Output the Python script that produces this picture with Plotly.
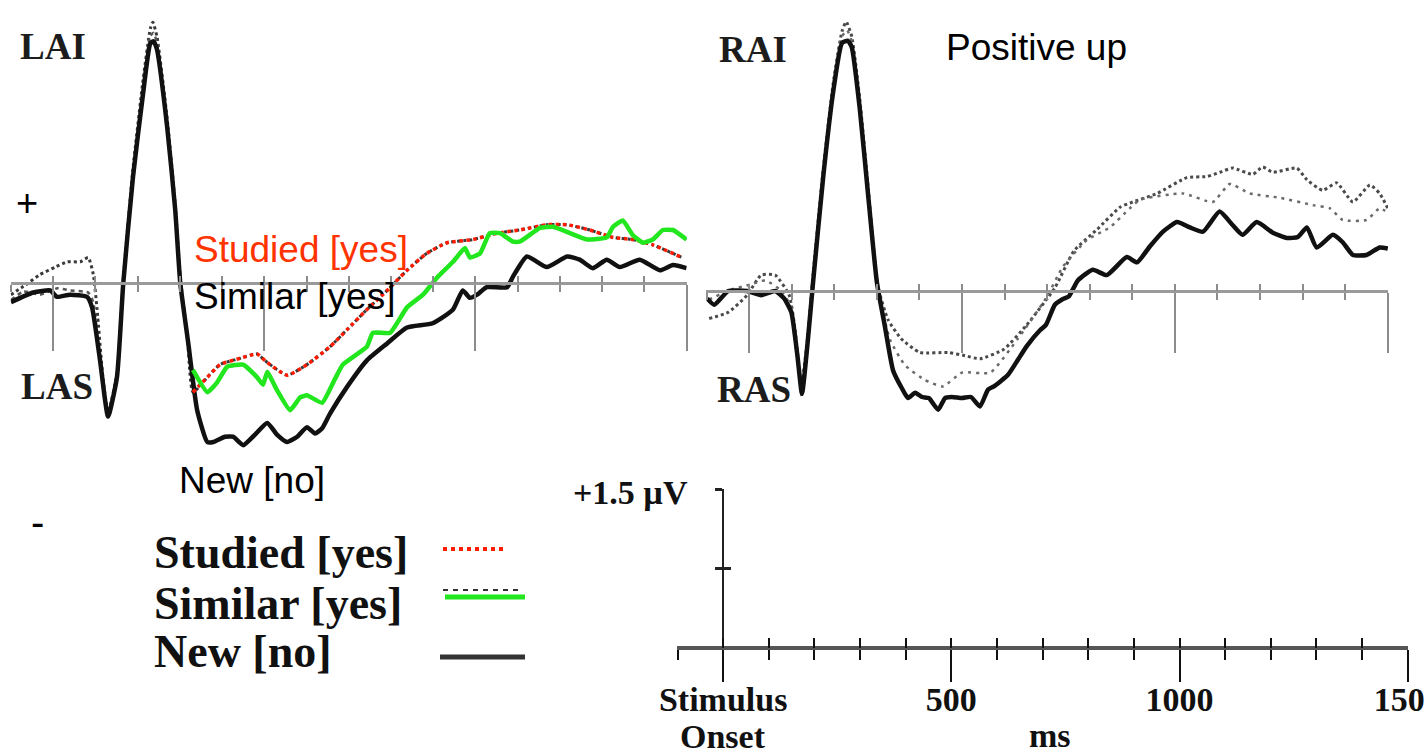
import plotly.graph_objects as go

W, H = 1425, 753


def px(x):
    """horizontal pixel -> paper fraction"""
    return x / W


def py(y):
    """vertical pixel (from top) -> paper fraction"""
    return 1 - y / H


# ---------------- waveforms: (time ms, amplitude µV) ----------------
EPOCH = [-100, 1500]
OVERLAY_FROM_MS = 330

# left anterior sites (LAI / LAS)
left_new = [(-100, -0.18), (-47, -0.09), (-7, -0.07), (9, -0.13), (40, -0.11), (80, -0.13), (92, -0.23),
            (111, -0.73), (130, -1.26), (151, -0.89), (166, 0.0), (189, 1.00), (213, 1.79), (230, 2.26),
            (238, 2.28), (246, 2.20), (270, 1.47), (289, 0.69), (301, 0.0), (320, -0.57), (341, -1.20),
            (365, -1.50), (379, -1.50),
            (407, -1.45), (426, -1.45), (450, -1.53), (478, -1.43), (507, -1.32), (530, -1.43), (554, -1.50),
            (578, -1.45), (601, -1.36), (620, -1.42), (637, -1.37), (656, -1.23), (696, -0.98), (743, -0.73),
            (791, -0.57), (838, -0.42), (899, -0.38), (947, -0.25), (970, -0.07), (987, -0.14), (1004, -0.11),
            (1027, -0.04), (1075, -0.04), (1089, 0.06), (1122, 0.25), (1169, 0.15), (1217, 0.25), (1247, 0.22),
            (1278, 0.14), (1311, 0.22), (1342, 0.15), (1389, 0.22), (1437, 0.12), (1468, 0.17), (1500, 0.14)]

left_studied = [(-100, -0.11), (-66, -0.02), (-31, 0.08), (5, 0.15), (33, 0.20), (64, 0.20), (83, 0.24),
                (95, 0.08), (104, -0.25), (118, -0.90), (130, -1.22), (151, -0.85), (166, 0.03), (189, 1.08),
                (213, 1.92), (230, 2.40), (236, 2.46), (246, 2.32), (270, 1.55), (289, 0.74), (301, 0.05),
                (318, -0.52),
                (331, -1.03), (365, -0.89), (395, -0.77), (443, -0.71), (483, -0.67), (507, -0.75),
                (554, -0.87), (601, -0.77), (656, -0.60), (696, -0.44), (743, -0.25), (791, -0.07),
                (838, 0.12), (885, 0.28), (933, 0.38), (994, 0.41), (1051, 0.47), (1105, 0.50), (1169, 0.55),
                (1217, 0.55), (1271, 0.50), (1326, 0.43), (1373, 0.41), (1420, 0.36), (1490, 0.24)]

left_similar = [(-100, -0.16), (-70, -0.08), (-31, -0.11), (10, -0.05), (40, -0.07), (83, -0.09), (95, -0.18),
                (111, -0.75), (130, -1.22), (151, -0.85), (166, 0.02), (189, 1.04), (213, 1.85), (230, 2.33),
                (238, 2.36), (246, 2.26), (270, 1.50), (289, 0.72), (301, 0.02), (318, -0.50),
                (331, -0.82), (365, -1.03), (388, -0.94), (412, -0.79), (450, -0.77), (483, -0.89),
                (497, -0.96), (507, -0.84), (530, -1.01), (561, -1.20), (585, -1.08), (601, -1.06),
                (637, -1.13), (668, -0.90), (686, -0.77), (743, -0.60), (757, -0.47), (798, -0.47),
                (838, -0.23), (876, -0.11), (909, 0.05), (947, 0.20), (975, 0.33), (987, 0.24), (1011, 0.28),
                (1034, 0.47), (1058, 0.47), (1089, 0.39), (1105, 0.39), (1153, 0.52), (1184, 0.53),
                (1224, 0.47), (1264, 0.41), (1311, 0.43), (1326, 0.53), (1349, 0.59), (1373, 0.45),
                (1397, 0.38), (1420, 0.41), (1444, 0.50), (1468, 0.50), (1500, 0.41)]

# right anterior sites (RAI / RAS)
right_new = [(-99, -0.07), (-82, -0.13), (-49, 0.0), (-5, 0.0), (28, -0.04), (61, 0.0), (82, -0.07),
             (99, -0.20), (113, -0.60), (124, -0.97), (137, -0.50), (150, 0.08), (174, 1.08), (197, 1.87),
             (218, 2.34), (232, 2.36), (241, 2.30), (260, 1.71), (279, 0.92), (300, 0.08), (319, -0.34),
             (338, -0.75), (359, -0.92), (373, -1.01), (390, -0.96), (406, -1.00), (422, -1.01),
             (444, -1.12), (460, -1.01), (476, -1.00), (500, -1.01), (521, -1.00), (542, -1.09),
             (561, -0.93), (575, -0.90), (608, -0.79), (631, -0.65), (652, -0.52), (683, -0.37),
             (697, -0.32), (718, -0.13), (735, -0.08), (751, -0.05), (772, 0.10), (807, 0.20), (840, 0.15),
             (887, 0.32), (911, 0.27), (941, 0.42), (972, 0.56), (1005, 0.65), (1035, 0.60), (1066, 0.56),
             (1105, 0.75), (1136, 0.62), (1159, 0.53), (1192, 0.65), (1230, 0.55), (1263, 0.50),
             (1289, 0.51), (1310, 0.60), (1333, 0.41), (1371, 0.53), (1394, 0.46), (1418, 0.34),
             (1450, 0.34), (1481, 0.41), (1500, 0.40)]

right_studied = [(-94, -0.26), (-49, -0.20), (-5, -0.04), (28, 0.15), (61, 0.15), (94, -0.04), (108, -0.37),
                 (122, -0.90), (137, -0.45), (150, 0.15), (174, 1.15), (197, 1.95), (218, 2.45), (228, 2.54),
                 (241, 2.40), (260, 1.80), (279, 1.00), (302, 0.05), (326, -0.27), (357, -0.45), (401, -0.58),
                 (467, -0.58), (507, -0.61), (542, -0.64), (598, -0.55), (652, -0.32), (718, 0.03),
                 (763, 0.38), (817, 0.58), (871, 0.79), (901, 0.84), (958, 0.92), (1028, 1.07), (1075, 1.08),
                 (1105, 1.12), (1136, 1.16), (1183, 1.10), (1206, 1.17), (1230, 1.12), (1286, 1.16),
                 (1310, 1.05), (1347, 0.95), (1380, 1.02), (1418, 0.84), (1458, 1.00), (1481, 0.92),
                 (1500, 0.78)]

right_similar = [(-94, -0.08), (-45, 0.01), (2, 0.06), (38, 0.10), (73, 0.01), (96, -0.13), (110, -0.55),
                 (124, -1.00), (137, -0.48), (150, 0.12), (174, 1.12), (197, 1.92), (218, 2.40), (230, 2.46),
                 (241, 2.35), (260, 1.76), (279, 0.96), (302, 0.03), (331, -0.46), (366, -0.70), (413, -0.84),
                 (455, -0.90), (500, -0.77), (566, -0.77), (631, -0.45), (697, -0.07), (737, 0.23),
                 (793, 0.48), (847, 0.60), (894, 0.78), (918, 0.86), (1019, 0.92), (1089, 0.84), (1129, 1.01),
                 (1176, 0.92), (1246, 0.88), (1324, 0.81), (1364, 0.78), (1394, 0.67), (1450, 0.67),
                 (1481, 0.78), (1500, 0.74)]

# calibration bar
scale_ticks_ms = [0, 500, 1000, 1500]
scale_tick_labels = ["Stimulus", "500", "1000", "1500"]
scale_uv_ticks = [0.75, 1.5]

# ---------------- styling ----------------
RED = "#ff1a00"
RED_TEXT = "#ff3300"
GREEN = "#22e61e"
AXIS_GREY = "#9a9a9a"
TICK_GREY = "#8c8c8c"
SERIF = "Liberation Serif"
SANS = "Liberation Sans"
PX_PER_UV = 106.0

fig = go.Figure()


def add_wave(pts, xa, ya, color, width, dash="solid", smooth=0.5):
    t, v = zip(*pts)
    fig.add_trace(go.Scatter(
        x=list(t), y=list(v), xaxis=xa, yaxis=ya, mode="lines",
        line=dict(color=color, width=width, dash=dash, shape="spline", smoothing=smooth),
        showlegend=False, hoverinfo="skip"))


def late(pts):
    return [(t, v) for t, v in pts if t >= OVERLAY_FROM_MS]


# left panel: original dotted / dashed traces, then solid and coloured overlays on top
add_wave(left_studied, "x", "y", "#3a3a3a", 3, "dot")
add_wave(left_similar, "x", "y", "#555555", 2.5, "4px,4px")
add_wave(left_new, "x4", "y", "#111111", 4.5)
add_wave(late(left_studied), "x4", "y", RED, 3.5, "dot")
add_wave(late(left_similar), "x4", "y", GREEN, 4.5, "solid", 0.4)

# right panel
add_wave(right_studied, "x2", "y2", "#4a4a4a", 3, "dot")
add_wave(right_similar, "x2", "y2", "#6a6a6a", 2.5, "3px,5px")
add_wave(right_new, "x5", "y2", "#111111", 4.5)

# empty traces register the calibration-bar axes
for xa, ya in [("x3", "y3"), ("x6", "y3"), ("x3", "y6")]:
    fig.add_trace(go.Scatter(x=[], y=[], xaxis=xa, yaxis=ya, showlegend=False, hoverinfo="skip"))

XR = [EPOCH[0] - 0.5, EPOCH[1] + 0.5]


def wave_x(x0, x1, base, long_len):
    return dict(domain=[px(x0), px(x1)], range=XR, anchor="free", position=py(base), automargin=False,
                showline=True, linecolor=AXIS_GREY, linewidth=3, showgrid=False, zeroline=False,
                tickmode="linear", tick0=0, dtick=500, ticks="outside", ticklen=long_len, tickwidth=2,
                tickcolor=TICK_GREY, showticklabels=False,
                minor=dict(tickmode="linear", tick0=0, dtick=100, ticks="outside", ticklen=7,
                           tickwidth=2, tickcolor=TICK_GREY, showgrid=False))


def wave_x_up(base_id, base, color=TICK_GREY, length=7):
    return dict(overlaying=base_id, range=XR, anchor="free", position=py(base), showline=False,
                automargin=False, showgrid=False, zeroline=False, tickmode="linear", tick0=0, dtick=100,
                ticks="inside", ticklen=length, tickwidth=2, tickcolor=color, showticklabels=False)


def wave_y(base, top=0, bottom=470):
    return dict(domain=[py(bottom), py(top)], range=[(base - bottom) / PX_PER_UV, (base - top) / PX_PER_UV],
                visible=False, anchor="free", position=0, automargin=False)


L_BASE, R_BASE, S_BASE = 283, 291, 648

fig.update_layout(
    template="none",
    width=W, height=H, autosize=False,
    margin=dict(l=0, r=0, t=0, b=0, pad=0, autoexpand=False),
    paper_bgcolor="white", plot_bgcolor="white",
    showlegend=False,
    xaxis=wave_x(10.75, 686.75, L_BASE, 66),
    yaxis=wave_y(L_BASE),
    xaxis4=wave_x_up("x", L_BASE),
    xaxis2=wave_x(706.4, 1388, R_BASE, 60),
    yaxis2=wave_y(R_BASE),
    xaxis5=wave_x_up("x2", R_BASE),
    # calibration bar
    xaxis3=dict(domain=[px(677.3), px(1408)], range=XR, anchor="free", position=py(S_BASE),
                automargin=False, ticklabeloverflow="allow", ticklabelstandoff=-12,
                showline=True, linecolor="#555555", linewidth=4, showgrid=False, zeroline=False,
                tickmode="array", tickvals=scale_ticks_ms,
                ticktext=[f"<b>{s}</b>" for s in scale_tick_labels],
                ticks="outside", ticklen=32, tickwidth=2, tickcolor="#111111",
                tickfont=dict(family=SERIF, size=34, color="#111111"),
                minor=dict(tickmode="linear", tick0=0, dtick=100, ticks="outside", ticklen=10,
                           tickwidth=2, tickcolor="#111111", showgrid=False)),
    xaxis6=wave_x_up("x3", S_BASE, "#111111", 10),
    yaxis3=dict(domain=[py(S_BASE), py(489)], range=[0, 1.5], anchor="free", position=px(723),
                automargin=False,
                showline=True, linecolor="#222222", linewidth=2, showgrid=False, zeroline=False,
                tickmode="array", tickvals=scale_uv_ticks, ticks="outside", ticklen=7, tickwidth=3,
                tickcolor="#222222", showticklabels=False),
    yaxis6=dict(overlaying="y3", range=[0, 1.5], anchor="free", position=px(723), showline=False,
                automargin=False,
                showgrid=False, zeroline=False, tickmode="array", tickvals=scale_uv_ticks,
                ticks="inside", ticklen=7, tickwidth=3, tickcolor="#222222", showticklabels=False),
)


def label(text, x, y, size, family=SANS, color="#000000", xanchor="left", bold=False):
    fig.add_annotation(text=f"<b>{text}</b>" if bold else text, x=px(x), y=py(y), xref="paper",
                       yref="paper", xanchor=xanchor, yanchor="middle", showarrow=False,
                       font=dict(family=family, size=size, color=color))


# site labels
label("LAI", 18, 47, 37, SERIF, "#1c1c1c", bold=True)
label("LAS", 19, 386, 37, SERIF, "#1c1c1c", bold=True)
label("RAI", 717, 50, 37, SERIF, "#1c1c1c", bold=True)
label("RAS", 715, 389, 37, SERIF, "#1c1c1c", bold=True)

# polarity and condition notes
label("+", 27, 203, 38, xanchor="center")
label("-", 37, 522, 40, xanchor="center")
label("Positive up", 944, 48, 37)
label("Studied [yes]", 192, 250, 37, color=RED_TEXT)
label("Similar [yes]", 192, 296, 37)
label("New [no]", 177, 480, 37)

# legend
label("Studied [yes]", 152, 552, 46, SERIF, "#111111", bold=True)
label("Similar [yes]", 152, 603, 46, SERIF, "#111111", bold=True)
label("New [no]", 152, 651, 46, SERIF, "#111111", bold=True)


def sample(x0, x1, y, color, width, dash="solid"):
    fig.add_shape(type="line", xref="paper", yref="paper", x0=px(x0), x1=px(x1), y0=py(y), y1=py(y),
                  line=dict(color=color, width=width, dash=dash))


sample(443, 506, 549, RED, 4, "dot")
sample(443, 523, 590, "#333333", 2, "5px,5px")
sample(445, 525, 597, GREEN, 5)
sample(440, 525, 657, "#333333", 5)

# calibration bar labels
label("+1.5 µV", 690, 492, 34, SERIF, "#111111", xanchor="right", bold=True)
label("Onset", 723, 736, 34, SERIF, "#111111", xanchor="center", bold=True)
label("ms", 1050, 735, 34, SERIF, "#111111", xanchor="center", bold=True)

fig.write_html("out.html")
